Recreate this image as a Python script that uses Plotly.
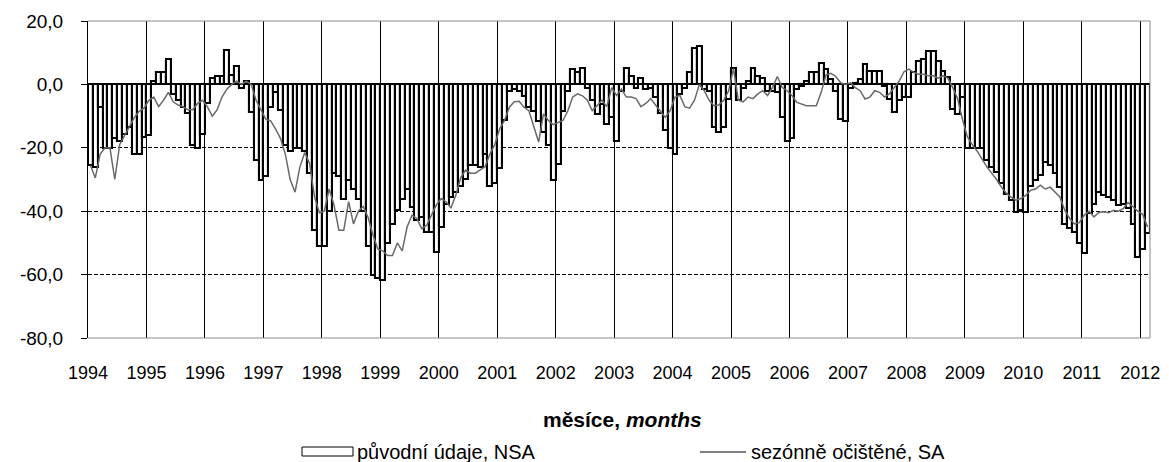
import plotly.graph_objects as go

# ---------------- data ----------------
year_labels = [str(y) for y in range(1994, 2013)]
y_tick_vals = [20, 0, -20, -40, -60, -80]
y_tick_text = ["20,0", "0,0", "-20,0", "-40,0", "-60,0", "-80,0"]

# původní údaje, NSA (monthly, Jan 1994 - Feb 2012)
nsa = [
    -25.5, -26, -7, -20, -20, -17, -18, -15.5, -13.5, -22, -22, -16.5,      # 1994
    -16, 1, 4, 4, 8, -3, -5, -7, -9, -19, -20, -15.5,                        # 1995
    -6, 2, 2.5, 2.5, 11, 3, 5.8, -1, 1, -8.8, -24, -30,                      # 1996
    -29, -7, -2.5, -8, -19, -21, -20, -20, -21, -28, -46, -51,               # 1997
    -51, -40, -28, -29, -36, -30, -33, -36, -40, -51, -60, -61,              # 1998
    -61.7, -50, -44, -39.7, -36, -33, -38.6, -42.8, -41.8, -46.5, -46.5, -52.8,  # 1999
    -45, -37.6, -35.5, -34, -32, -29.7, -25.5, -25.5, -26, -22, -32, -31,    # 2000
    -26.5, -11.3, -2, -1.5, -2, -3.6, -7, -8.3, -11.4, -15, -19, -30,        # 2001
    -25, -8.3, -2, 4.8, 3.8, 5.3, -1, -5, -9.3, -6.2, -12.5, -10.4,          # 2002
    -17.7, -2, 5.3, 2.7, -1, 2, -1.5, -1, -4, -9, -14.5, -20,                # 2003
    -22, -3, -1, 3.8, 11.6, 12, -1.5, -2, -13.5, -15, -13.5, -4.6,           # 2004
    5.3, -5, -1, 1, 5.3, 2.7, 2, -2, -2, -2.5, -10.4, -18,                   # 2005
    -17, -1.5, -0.5, 1, 3.8, 3.8, 6.9, 4.8, 1.6, -2, -11, -11.5,             # 2006
    -1, 0.6, 1.6, 6.4, 4.3, 4.3, 4.3, -0.5, -4.6, -8.8, -5, -4,              # 2007
    -4, 3.8, 7.4, 8, 10.6, 10.6, 7.4, 4.3, 2.2, -7.7, -9.3, -4,              # 2008
    -20, -20, -20, -20, -24, -26, -27.5, -31, -34.5, -36.6, -40.2, -39.7,    # 2009
    -40.2, -32, -30, -28.7, -24.5, -25.5, -28, -32.4, -43.9, -45.4, -46.5, -50,  # 2010
    -53.3, -40.7, -37.6, -34, -35, -35.5, -36.5, -38, -37.6, -39, -44, -54.3,    # 2011
    -52, -47,                                                                 # 2012
]

# sezónně očištěné, SA
sa = [
    -25.5, -29.5, -22, -20, -20, -30, -19, -16, -13, -10.5, -8.5, -7.5,      # 1994
    -5, -4, -7, -5, -2.5, -5.5, -6.5, -7, -8, -8, -6, -5,                    # 1995
    -7, -10, -8, -4, -1.5, 0, 1, 0, 1, 0, -5, -8,                            # 1996
    -11, -11.5, -14, -17, -22, -30, -34, -26, -21.5, -25, -35.5, -40.5,      # 1997
    -40, -33, -38, -46, -46, -37, -44, -40, -38.5, -42, -47.5, -52,          # 1998
    -52.5, -54, -54, -50, -52.5, -45, -41.3, -42.3, -45.5, -44.5, -41.5, -38,  # 1999
    -36, -37, -39, -35, -29.5, -27, -28, -28, -27, -26, -22, -19,            # 2000
    -14, -11.4, -7.2, -5.5, -5.3, -7.2, -8.3, -13, -18.2, -9.3, -11.4, -12.7,  # 2001
    -12, -11.4, -8.3, -4, -3, -3.6, -5, -8.3, -6.7, -5, -7, -1,              # 2002
    -3.5, -1.5, -4, -4, -4.5, -7, -6, -4.5, -6.5, -8.3, -10.4, -8.3,         # 2003
    -4, -3.5, -7, -7.5, -5, 0, -2, -5, -6.7, -6.5, -5, -2,                   # 2004
    5, -5, -5.5, -4, -4.5, -3, -2, -3.5, -1, 2.5, -1, -2,                    # 2005
    -3.5, -5.7, -6.3, -6.7, -6.7, -6.7, -2.5, 3, 3.5, 2.5, 0.5, 0,           # 2006
    0.5, -1, -2, -4.6, -4, -2, -2.5, -4, -3, -1, 1, 4,                       # 2007
    4.8, 3.8, 3.2, 3.2, 2.7, 2.7, 2, 2.7, 2, -1, -4.5, -11,                  # 2008
    -16.5, -19, -21, -23.5, -26, -28, -30, -32.4, -34.3, -35.6, -36.5, -36,  # 2009
    -35, -33.4, -33, -31.8, -33, -32.4, -34, -35.5, -39.7, -42.3, -44, -43.6,  # 2010
    -41.3, -40, -41.8, -40.4, -40.2, -40.5, -39.7, -40, -39.2, -37.3, -38.6, -40,  # 2011
    -41, -45,                                                                 # 2012
]

legend_nsa = "původní údaje, NSA"
legend_sa = "sezónně očištěné, SA"
x_title = "<b>měsíce, <i>months</i></b>"

# ---------------- figure ----------------
n = len(nsa)
month_pos = [i + 0.5 for i in range(n)]
year_pos = [12 * i for i in range(len(year_labels))]

OFF = 8  # page body margin of the browser
W, H = 1169 - OFF, 462 - OFF
ML, MR, MT, MB = 80, 19, 13, 124
PW, PH = W - ML - MR, H - MT - MB


def px(x):
    """screen pixel x -> paper coordinate"""
    return (x - OFF - ML) / PW


def py(y):
    """screen pixel y -> paper coordinate"""
    return (H - MB - (y - OFF)) / PH


FONT = "Liberation Sans, Arial, sans-serif"

fig = go.Figure()
fig.add_trace(go.Bar(
    x=month_pos, y=nsa, width=1.0,
    marker=dict(color="white", line=dict(color="black", width=2.1)),
    name=legend_nsa, showlegend=False,
))
fig.add_trace(go.Scatter(
    x=month_pos, y=sa, mode="lines",
    line=dict(color="#6a6a6a", width=1.5),
    name=legend_sa, showlegend=False,
))

shapes = [
    # grey frame (top, right, bottom)
    dict(type="line", xref="paper", yref="paper", x0=0, x1=1, y0=1, y1=1,
         line=dict(color="#8c8c8c", width=1)),
    dict(type="line", xref="paper", yref="paper", x0=1, x1=1, y0=0, y1=1,
         line=dict(color="#8c8c8c", width=1)),
    dict(type="line", xref="paper", yref="paper", x0=0, x1=1, y0=0, y1=0,
         line=dict(color="#8c8c8c", width=1)),
    # legend symbols
    dict(type="rect", xref="paper", yref="paper",
         x0=px(302), x1=px(353), y0=py(456), y1=py(447),
         line=dict(color="black", width=1), fillcolor="white"),
    dict(type="line", xref="paper", yref="paper",
         x0=px(700), x1=px(746), y0=py(452), y1=py(452),
         line=dict(color="black", width=1)),
]

annotations = [
    dict(text=x_title, xref="paper", yref="paper", x=px(622), y=py(419),
         xanchor="center", yanchor="middle", showarrow=False,
         font=dict(family=FONT, size=21, color="black")),
    dict(text=legend_nsa, xref="paper", yref="paper", x=px(355), y=py(452),
         xanchor="left", yanchor="middle", showarrow=False,
         font=dict(family=FONT, size=20, color="black")),
    dict(text=legend_sa, xref="paper", yref="paper", x=px(749), y=py(452),
         xanchor="left", yanchor="middle", showarrow=False,
         font=dict(family=FONT, size=20, color="black")),
]

fig.update_layout(
    width=W, height=H,
    margin=dict(l=ML, r=MR, t=MT, b=MB, autoexpand=False),
    paper_bgcolor="white", plot_bgcolor="white",
    bargap=0, showlegend=False,
    font=dict(family=FONT, size=18, color="black"),
    shapes=shapes, annotations=annotations,
    xaxis=dict(
        range=[0, n], tickmode="array", tickvals=year_pos, ticktext=year_labels,
        showgrid=True, gridcolor="black", gridwidth=1,
        zeroline=False, showline=False, ticks="",
        tickfont=dict(family=FONT, size=18, color="black"),
        ticklabelstandoff=22,
    ),
    yaxis=dict(
        range=[-80, 20], tickmode="array", tickvals=y_tick_vals, ticktext=y_tick_text,
        showgrid=True, gridcolor="black", gridwidth=1, griddash="4px,2px",
        zeroline=False, showline=True, linecolor="black", linewidth=1,
        ticks="outside", ticklen=6, tickcolor="black", tickwidth=1,
        tickfont=dict(family=FONT, size=19, color="black"),
        ticklabelstandoff=14,
    ),
)

fig.write_html("out.html")
